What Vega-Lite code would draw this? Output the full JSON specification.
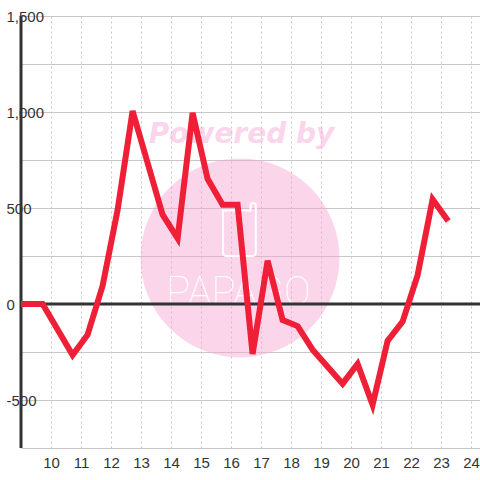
{
  "$schema": "https://vega.github.io/schema/vega-lite/v6.json",
  "autosize": "none",
  "width": 459,
  "height": 432,
  "padding": {"left": 21, "top": 16, "right": 0, "bottom": 32},
  "background": "white",
  "config": {
    "view": {"stroke": null},
    "font": "Liberation Sans",
    "axis": {"domain": false, "ticks": false, "labelOverlap": false, "labelFlush": false, "title": null, "labelFontSize": 15, "labelColor": "#333333"}
  },
  "data": {"values": [{}]},
  "datasets": {
    "series": [
      {"x": 9.0, "v": 0},
      {"x": 9.72, "v": 0},
      {"x": 10.72, "v": -266},
      {"x": 11.22, "v": -160},
      {"x": 11.72, "v": 95},
      {"x": 12.22, "v": 490},
      {"x": 12.72, "v": 1005},
      {"x": 13.72, "v": 465},
      {"x": 14.22, "v": 342},
      {"x": 14.72, "v": 995},
      {"x": 15.22, "v": 652},
      {"x": 15.72, "v": 517},
      {"x": 16.22, "v": 517},
      {"x": 16.72, "v": -260},
      {"x": 17.22, "v": 225},
      {"x": 17.72, "v": -83},
      {"x": 18.22, "v": -115},
      {"x": 18.72, "v": -238},
      {"x": 19.72, "v": -415},
      {"x": 20.22, "v": -312},
      {"x": 20.72, "v": -525},
      {"x": 21.22, "v": -192},
      {"x": 21.72, "v": -92},
      {"x": 22.22, "v": 150},
      {"x": 22.72, "v": 545},
      {"x": 23.24, "v": 432}
    ]
  },
  "layer": [
    {
      "mark": {"type": "point", "shape": "circle", "filled": true, "size": 39600, "color": "#f7a3d3", "opacity": 0.45},
      "encoding": {
        "x": {"datum": 16.3, "type": "quantitative"},
        "y": {"datum": 240, "type": "quantitative"}
      }
    },
    {
      "mark": {"type": "text", "text": "Powered by", "font": "DejaVu Sans", "fontSize": 28, "fontWeight": "bold", "fontStyle": "italic", "color": "#f7a3d3", "opacity": 0.45, "align": "center", "baseline": "alphabetic"},
      "encoding": {
        "x": {"datum": 16.35, "type": "quantitative"},
        "y": {"datum": 838, "type": "quantitative"}
      }
    },
    {
      "mark": {"type": "point", "shape": "M -0.62 -0.72 L -0.62 0.85 Q -0.62 1 -0.47 1 L 0.47 1 Q 0.62 1 0.62 0.85 L 0.62 -0.9 Q 0.62 -1 0.52 -1 Q 0.42 -1 0.42 -0.9 L 0.42 -0.72 Z", "filled": false, "size": 2809, "stroke": "white", "strokeWidth": 2, "opacity": 1},
      "encoding": {
        "x": {"datum": 16.28, "type": "quantitative"},
        "y": {"datum": 388, "type": "quantitative"}
      }
    },
    {
      "mark": {"type": "text", "text": "PAPAGO", "font": "Roboto", "fontSize": 40, "fontWeight": 100, "color": "white", "align": "center", "baseline": "alphabetic"},
      "encoding": {
        "x": {"datum": 16.25, "type": "quantitative"},
        "y": {"datum": -5, "type": "quantitative"}
      }
    },
    {
      "mark": {"type": "rule", "color": "#333333", "strokeWidth": 3},
      "encoding": {
        "y": {"datum": 0, "type": "quantitative"}
      }
    },
    {
      "mark": {"type": "rule", "color": "#333333", "strokeWidth": 3},
      "encoding": {
        "x": {"datum": 9, "type": "quantitative"},
        "y": {"datum": -750, "type": "quantitative"},
        "y2": {"datum": 1500}
      }
    },
    {
      "data": {"name": "series"},
      "mark": {"type": "line", "color": "#ee1f36", "strokeWidth": 6, "strokeJoin": "miter", "strokeCap": "butt"},
      "encoding": {
        "x": {
          "field": "x",
          "type": "quantitative",
          "scale": {"domain": [9, 24.3], "nice": false, "zero": false},
          "axis": {
            "orient": "bottom",
            "values": [10, 11, 12, 13, 14, 15, 16, 17, 18, 19, 20, 21, 22, 23, 24],
            "tickCount": 15,
            "tickMinStep": 1,
            "grid": true,
            "gridColor": "#c8c8c8",
            "gridDash": [2, 3],
            "gridWidth": 1,
            "domain": false,
            "ticks": false,
            "labelOverlap": false,
            "labelFlush": false,
            "labelFontSize": 15,
            "labelColor": "#333333",
            "labelPadding": 7,
            "title": null
          }
        },
        "y": {
          "field": "v",
          "type": "quantitative",
          "scale": {"domain": [-750, 1500], "nice": false, "zero": false},
          "axis": {
            "orient": "left",
            "values": [-750, -500, -250, 0, 250, 500, 750, 1000, 1250, 1500],
            "grid": true,
            "gridColor": "#c8c8c8",
            "gridWidth": 1,
            "domain": false,
            "ticks": false,
            "labelAlign": "left",
            "labelBaseline": "middle",
            "labelPadding": 15,
            "labelFontSize": 15,
            "labelColor": "#333333",
            "labelOverlap": false,
            "labelExpr": "datum.value % 500 == 0 ? replace(format(datum.value, ','), '\u2212', '-') : ''",
            "title": null
          }
        }
      }
    }
  ]
}
